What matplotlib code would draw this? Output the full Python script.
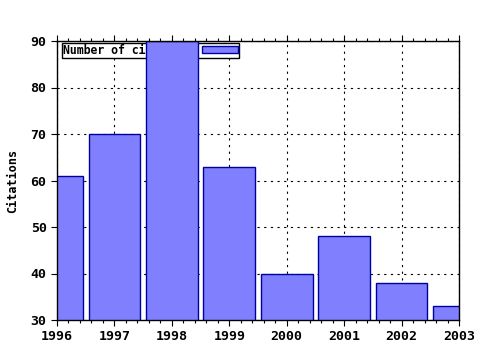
import matplotlib
matplotlib.use("Agg")
import matplotlib.pyplot as plt
from matplotlib.ticker import AutoMinorLocator

years = [1996, 1997, 1998, 1999, 2000, 2001, 2002, 2003]
citations = [61, 70, 90, 63, 40, 48, 38, 33]
series_name = "Number of citations"

font = {"family": "DejaVu Sans Mono", "weight": "bold", "size": 8.5}

fig = plt.figure(figsize=(4.8, 3.5), dpi=100)
ax = fig.add_axes([57 / 480, 30 / 350, 402 / 480, 279 / 350])

ax.bar(years, citations, width=0.9, color="#8080ff", edgecolor="#0000a0",
       linewidth=1.0, label=series_name, zorder=3)

ax.set_xlim(1996, 2003)
ax.set_ylim(30, 90)
ax.set_xticks(years)
ax.set_yticks(range(30, 91, 10))
ax.xaxis.set_minor_locator(AutoMinorLocator(5))
ax.grid(True, color="black", linestyle=(0, (2, 4)), linewidth=0.8, zorder=0)
ax.set_axisbelow(True)

ax.tick_params(which="both", direction="out", top=True, bottom=True,
               left=True, right=False, width=0.8, color="black")
ax.tick_params(which="major", length=4)
ax.tick_params(which="minor", length=2)
ax.tick_params(axis="y", which="minor", left=False)
for lab in ax.get_xticklabels() + ax.get_yticklabels():
    lab.set_fontproperties(font)
    lab.set_fontsize(9.5)

for s in ax.spines.values():
    s.set_linewidth(1.0)
    s.set_zorder(4)

ax.set_ylabel("Citations", fontdict=font, labelpad=8)

leg = ax.legend(loc="upper left", bbox_to_anchor=(0.013, 0.993), markerfirst=False,
                prop={"family": "DejaVu Sans Mono", "weight": "bold", "size": 8.3},
                frameon=True, fancybox=False, edgecolor="black", framealpha=1,
                borderpad=0.08, handlelength=3.1, handleheight=0.55,
                handletextpad=0.7, borderaxespad=0)
leg.get_frame().set_linewidth(1.0)
leg.set_zorder(2)

fig.savefig("out.png", dpi=100)
